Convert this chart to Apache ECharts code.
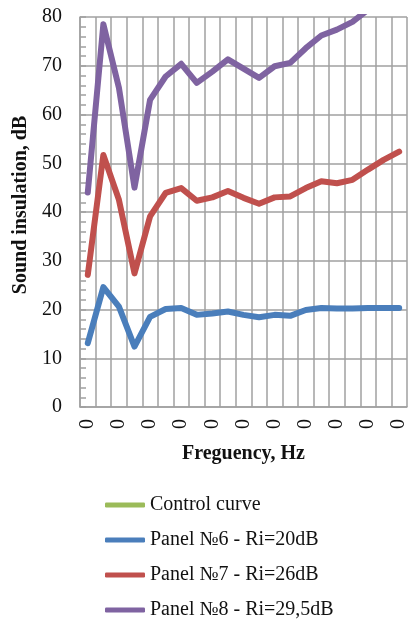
<!DOCTYPE html>
<html>
<head>
<meta charset="utf-8">
<script src="https://cdn.jsdelivr.net/npm/echarts@6/dist/echarts.min.js"></script>
<style>html,body{margin:0;padding:0;background:#fff;}#c{width:409px;height:619px;}</style>
</head>
<body>
<div id="c"></div>
<script>
var categories = ['0','0','0','0','0','0','0','0','0','0','0','0','0','0','0','0','0','0','0','0','0'];
var controlCurve = [];
var panel6 = [13.1, 24.6, 20.6, 12.4, 18.5, 20.1, 20.3, 18.9, 19.2, 19.6, 18.9, 18.4, 18.9, 18.7, 19.9, 20.3, 20.2, 20.2, 20.3, 20.3, 20.3];
var panel7 = [27.1, 51.7, 42.5, 27.4, 39.1, 43.9, 44.9, 42.3, 43.0, 44.3, 42.9, 41.7, 43.0, 43.2, 44.9, 46.3, 45.9, 46.6, 48.7, 50.7, 52.4];
var panel8 = [44.0, 78.5, 65.5, 45.0, 63.0, 67.8, 70.4, 66.5, 68.8, 71.3, 69.4, 67.5, 69.9, 70.6, 73.6, 76.2, 77.4, 79.0, 81.5, 83.0, 85.0];
var seriesNames = ['Control curve', 'Panel №6 - Ri=20dB', 'Panel №7 - Ri=26dB', 'Panel №8 - Ri=29,5dB'];
var colors = ['#9bbb59', '#4a7ebb', '#c0504d', '#7f63a1'];

var FONT = 'Liberation Serif';
var grid = '#a0a0a0';
var chart = echarts.init(document.getElementById('c'), null, {renderer: 'canvas'});
function mk(i, data) {
  return {
    name: seriesNames[i], type: 'line', data: data, symbol: 'none', showSymbol: false,
    smooth: false, clip: true, color: colors[i],
    lineStyle: {width: 6, color: colors[i], cap: 'round', join: 'round'},
    emphasis: {disabled: true}
  };
}
chart.setOption({
  animation: false,
  textStyle: {fontFamily: FONT},
  grid: {left: 80, top: 17, bottom: 212, right: -5.6, containLabel: false},
  legend: {
    orient: 'vertical', left: 105, top: 495, width: 300, height: 200, padding: 0,
    itemWidth: 40, itemHeight: 5, itemGap: 15, itemTextGap: 0,
    icon: 'roundRect', data: seriesNames,
    textStyle: {fontFamily: FONT, fontSize: 20, color: '#111'}
  },
  xAxis: {
    type: 'category', data: categories, boundaryGap: true,
    name: 'Freguency, Hz', nameLocation: 'middle', nameGap: 37,
    nameTextStyle: {fontFamily: FONT, fontSize: 20, fontWeight: 'bold', color: '#111'},
    axisLine: {show: true, lineStyle: {color: grid, width: 1.5}},
    axisTick: {show: false},
    axisLabel: {interval: 1, rotate: 90, margin: 12, fontFamily: FONT, fontSize: 20, color: '#111'},
    splitLine: {show: true, interval: 0, lineStyle: {color: grid, width: 1.5}}
  },
  yAxis: {
    type: 'value', min: 0, max: 80, interval: 10,
    name: 'Sound insulation, dB', nameLocation: 'middle', nameGap: 47,
    nameTextStyle: {fontFamily: FONT, fontSize: 20, fontWeight: 'bold', color: '#111', padding: [0, 0, 0, 14]},
    axisLine: {show: true, lineStyle: {color: grid, width: 1.5}},
    axisTick: {show: true, inside: true, length: 6, lineStyle: {color: grid, width: 1.5}},
    minorTick: {show: true, splitNumber: 5, length: 6, lineStyle: {color: grid, width: 1.5}},
    axisLabel: {margin: 18, fontFamily: FONT, fontSize: 20, color: '#111'},
    splitLine: {show: true, lineStyle: {color: grid, width: 1.5}}
  },
  series: [mk(0, controlCurve), mk(1, panel6), mk(2, panel7), mk(3, panel8)]
});
</script>
</body>
</html>
